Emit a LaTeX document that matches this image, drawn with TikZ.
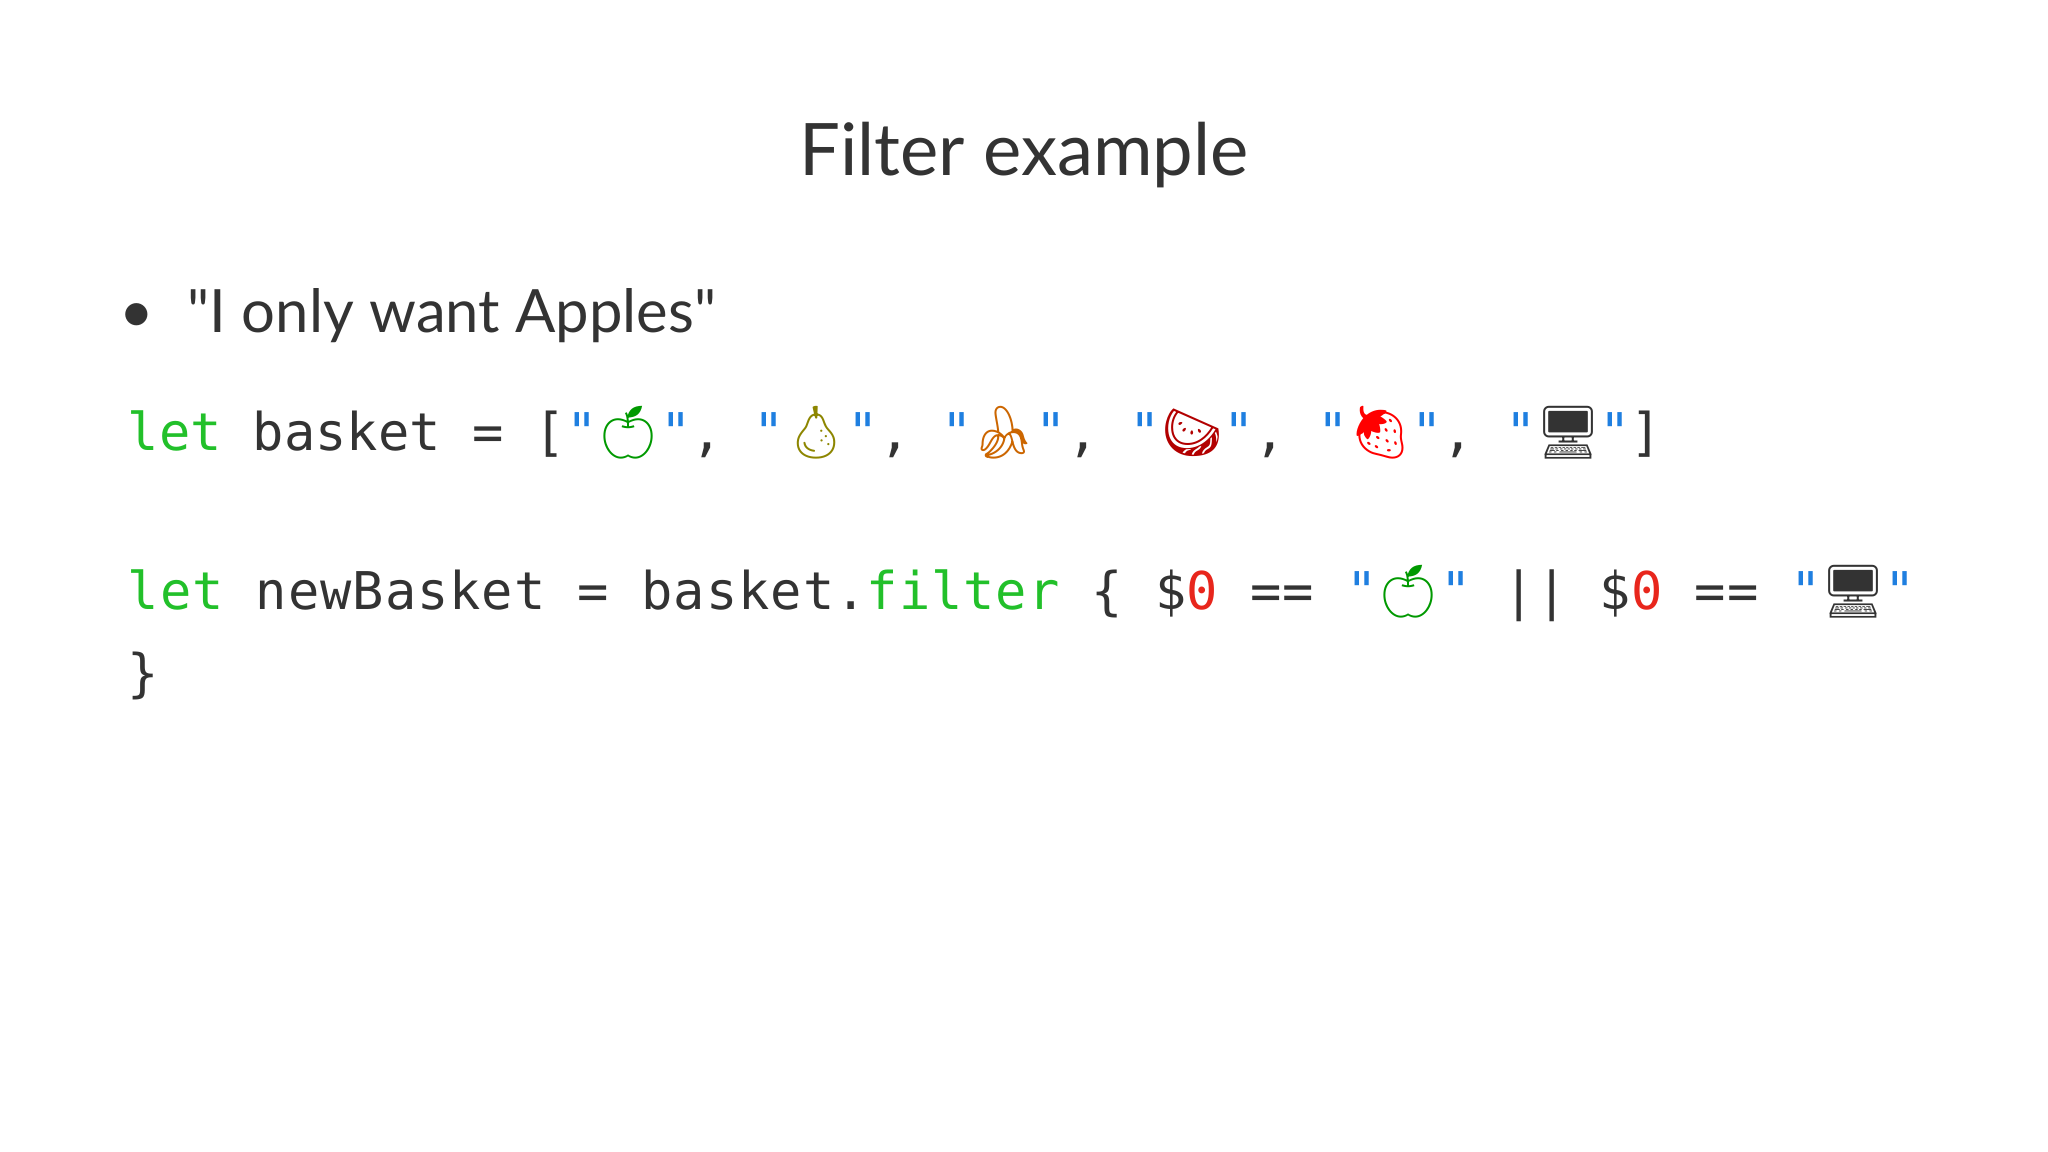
\documentclass[tikz,border=0pt]{standalone}
\usepackage{fontspec}
\setmainfont{Lato}[Ligatures=TeXOff]
\setmonofont{DejaVu Sans Mono}
\newfontfamily\emojifont{Noto Emoji}
\definecolor{txt}{HTML}{333333}
\definecolor{kw}{HTML}{22C02A}
\definecolor{str}{HTML}{1F7FE0}
\definecolor{num}{HTML}{E8261C}
\newlength{\cw}\setlength{\cw}{0.313cm}
\newcommand{\emo}[2]{\makebox[2\cw]{\color{#1}\emojifont #2}}
\newcommand{\q}{\textcolor{str}{"}}
\newcommand{\kw}[1]{\textcolor{kw}{#1}}
\newcommand{\nm}[1]{\textcolor{num}{#1}}
\tikzset{
  code/.style={anchor=base west, inner sep=0pt, text=txt, font=\ttfamily\fontsize{14.8pt}{18pt}\selectfont},
  title/.style={anchor=base, inner sep=0pt, text=txt, font=\fontsize{20.6pt}{24pt}\selectfont},
  bullet/.style={anchor=base west, inner sep=0pt, text=txt, font=\fontsize{17pt}{20pt}\selectfont}
}
\begin{document}
\begin{tikzpicture}
\useasboundingbox[fill=white] (0,0) rectangle (20.48,11.52);
\node[title] (t) at (10.24,9.76) {Filter example};
\node[bullet] (b) at (1.87,8.19) {"I only want Apples"};
\node[bullet, anchor=base] (bd) at (1.37,8.19) {•};
\node[code] (l1) at (1.27,7.01) {\kw{let} basket = [\q\emo{green!60!black}{🍏}\q, \q\emo{olive}{🍐}\q, \q\emo{orange!80!black}{🍌}\q, \q\emo{red!70!black}{🍉}\q, \q\emo{red}{🍓}\q, \q\emo{black!80}{🖥}\q]};
\node[code, font=\ttfamily\fontsize{14.8pt}{18pt}\selectfont\addfontfeature{LetterSpace=1.9}] (l2) at (1.27,5.42) {\kw{let} newBasket = basket.\kw{filter} \{ \$\nm{0} == \q\emo{green!60!black}{🍏}\q{} || \$\nm{0} == \q\emo{black!80}{🖥}\q};
\node[code] (l3) at (1.27,4.6) {\}};
\end{tikzpicture}
\end{document}
